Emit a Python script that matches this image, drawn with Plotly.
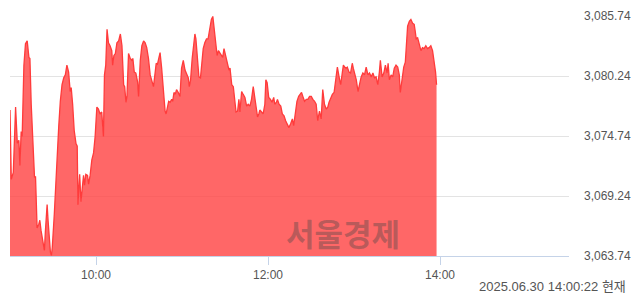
import pandas as pd
import plotly.graph_objects as go

# minutes after 09:00 open
minutes = [0.0, 0.9, 2.3, 3.9, 5.1, 6.2, 6.9, 7.8, 8.5, 9.7,
           10.8, 12.0, 13.2, 13.9, 14.8, 16.2, 17.1, 17.8, 18.4, 18.9,
           20.1, 20.8, 21.7, 23.1, 24.0, 24.7, 25.9, 26.6, 27.5, 28.2,
           28.9, 29.5, 30.9, 32.3, 34.0, 35.1, 36.3, 37.5, 38.6, 39.7,
           40.9, 42.0, 42.7, 43.7, 44.8, 46.0, 46.9, 47.4, 48.6, 49.5,
           50.4, 51.3, 52.0, 52.9, 54.1, 54.8, 55.9, 57.1, 58.3, 59.4,
           60.6, 61.7, 62.8, 64.0, 65.2, 65.9, 66.8, 67.7, 68.7, 69.8,
           71.0, 71.6, 72.5, 73.5, 74.6, 75.8, 77.0, 78.1, 79.3, 80.0,
           80.9, 81.6, 82.7, 83.9, 85.0, 85.7, 86.7, 87.8, 89.0, 89.7,
           90.9, 92.0, 93.2, 94.3, 95.4, 96.6, 97.8, 98.9, 100.1, 101.3,
           102.0, 102.9, 103.8, 104.7, 105.8, 107.0, 108.2, 108.9, 109.8, 110.7,
           111.7, 112.8, 113.5, 114.4, 115.3, 116.2, 117.4, 118.6, 119.7, 120.9,
           122.1, 123.2, 124.4, 125.1, 126.0, 127.1, 128.3, 129.0, 129.7, 130.6,
           131.8, 132.9, 133.9, 134.8, 135.9, 137.1, 138.2, 139.4, 140.5, 141.5,
           142.4, 143.6, 144.5, 145.4, 146.3, 148.4, 149.3, 150.5, 151.6, 152.8,
           153.5, 154.7, 155.8, 157.0, 157.7, 158.8, 159.7, 160.4, 161.6, 162.7,
           163.9, 165.1, 166.2, 167.4, 168.5, 169.7, 170.8, 172.0, 172.7, 173.6,
           174.3, 175.5, 176.6, 177.8, 178.5, 179.4, 180.5, 181.7, 182.8, 184.0,
           184.7, 185.9, 186.6, 187.7, 188.9, 190.0, 191.2, 192.3, 193.5, 194.6,
           195.8, 197.0, 197.9, 199.1, 200.2, 201.4, 202.5, 203.4, 204.3, 205.5,
           206.7, 207.8, 209.0, 210.2, 211.3, 212.5, 213.6, 214.7, 215.9, 217.1,
           218.2, 219.4, 220.6, 221.7, 222.6, 223.8, 224.9, 226.1, 227.2, 228.4,
           229.6, 230.7, 231.9, 232.6, 233.5, 234.6, 235.3, 236.5, 237.6, 238.8,
           239.5, 240.4, 241.6, 242.8, 243.9, 245.0, 246.2, 247.3, 248.5, 249.7,
           250.8, 252.0, 253.2, 254.3, 255.4, 256.6, 257.7, 258.4, 259.6, 260.8,
           261.9, 263.1, 263.8, 264.7, 265.9, 267.0, 268.1, 269.3, 270.5, 271.6,
           272.3, 273.5, 274.7, 275.8, 276.5, 277.4, 278.6, 279.7, 280.9, 282.0,
           282.7, 283.4, 284.4, 285.5, 286.7, 287.8, 288.9, 290.1, 291.3, 292.4,
           293.6, 294.8, 295.9, 296.9, 297.6]

index_values = [3077.12, 3070.77, 3071.40, 3077.39, 3074.08, 3074.35, 3072.03, 3075.15, 3074.70, 3081.23,
                3083.19, 3083.46, 3081.94, 3081.85, 3077.65, 3073.19, 3070.95, 3071.04, 3068.72, 3066.31,
                3066.66, 3067.02, 3066.04, 3064.70, 3064.25, 3066.04, 3068.45, 3066.93, 3065.14, 3064.07,
                3063.80, 3064.52, 3067.56, 3071.67, 3075.60, 3077.92, 3079.44, 3080.07, 3080.34, 3081.23,
                3080.60, 3078.82, 3079.17, 3077.65, 3075.24, 3074.08, 3073.81, 3068.45, 3071.22, 3068.72,
                3070.33, 3071.13, 3070.24, 3071.22, 3071.13, 3070.33, 3071.13, 3072.56, 3073.19, 3074.70,
                3077.39, 3077.21, 3076.76, 3076.94, 3074.70, 3080.34, 3081.23, 3084.53, 3083.28, 3083.02,
                3082.57, 3081.23, 3082.12, 3082.30, 3083.28, 3083.46, 3084.09, 3083.02, 3079.44, 3079.26,
                3077.83, 3078.37, 3082.30, 3081.85, 3081.68, 3081.85, 3080.60, 3080.51, 3079.71, 3078.37,
                3081.68, 3083.02, 3083.46, 3083.28, 3082.84, 3081.85, 3080.34, 3079.71, 3079.26, 3080.60,
                3081.41, 3081.32, 3081.85, 3082.39, 3080.96, 3078.55, 3077.03, 3076.76, 3077.48, 3077.92,
                3077.83, 3078.10, 3077.92, 3078.73, 3078.55, 3078.99, 3078.73, 3078.37, 3080.96, 3081.68,
                3080.78, 3080.34, 3080.07, 3079.26, 3079.89, 3081.85, 3083.64, 3084.09, 3083.64, 3081.85,
                3080.16, 3080.07, 3081.23, 3082.75, 3083.28, 3083.64, 3083.64, 3084.80, 3085.43, 3085.70,
                3084.53, 3083.28, 3082.12, 3082.57, 3082.39, 3081.94, 3082.75, 3082.12, 3081.41, 3080.78,
                3080.96, 3079.44, 3079.26, 3077.65, 3076.94, 3077.03, 3078.10, 3076.94, 3078.82, 3078.55,
                3078.28, 3077.48, 3077.65, 3077.48, 3078.10, 3079.26, 3078.28, 3077.03, 3076.49, 3076.76,
                3077.12, 3076.94, 3076.76, 3077.65, 3079.89, 3079.62, 3078.28, 3078.10, 3077.83, 3078.28,
                3077.65, 3077.83, 3078.10, 3077.65, 3077.48, 3076.76, 3076.58, 3076.14, 3075.87, 3075.51,
                3075.87, 3076.31, 3075.69, 3077.03, 3077.92, 3078.37, 3078.55, 3078.73, 3078.37, 3077.92,
                3078.10, 3078.10, 3078.37, 3078.37, 3078.10, 3077.92, 3077.65, 3076.14, 3077.03, 3076.31,
                3078.99, 3077.65, 3077.21, 3077.39, 3077.83, 3078.28, 3078.55, 3078.73, 3079.89, 3081.05,
                3080.16, 3079.44, 3080.60, 3081.23, 3081.05, 3080.96, 3081.05, 3080.60, 3080.51, 3081.41,
                3080.96, 3080.51, 3079.89, 3078.82, 3079.44, 3080.16, 3080.51, 3080.34, 3081.05, 3080.34,
                3080.51, 3080.16, 3080.51, 3080.07, 3080.16, 3079.44, 3080.60, 3081.68, 3080.16, 3080.51,
                3081.23, 3080.51, 3081.41, 3079.89, 3080.34, 3080.16, 3080.96, 3081.23, 3081.05, 3080.34,
                3078.73, 3079.71, 3081.05, 3081.50, 3082.75, 3084.80, 3085.25, 3085.43, 3085.07, 3084.98,
                3084.36, 3083.64, 3083.73, 3083.28, 3082.57, 3082.84, 3082.75, 3083.02, 3082.75, 3082.84,
                3083.02, 3082.57, 3081.68, 3080.60, 3079.44]

y_tick_values = [3063.74, 3069.24, 3074.74, 3080.24, 3085.74]
y_tick_labels = ["3,063.74", "3,069.24", "3,074.74", "3,080.24", "3,085.74"]
x_tick_values = ["2025-06-30 10:00", "2025-06-30 12:00", "2025-06-30 14:00"]
x_tick_labels = ["10:00", "12:00", "14:00"]
x_range = ["2025-06-30 09:00", "2025-06-30 15:30"]
watermark = "서울경제"
stamp = "2025.06.30 14:00:22 현재"

base = pd.Timestamp("2025-06-30 09:00")
times = base + pd.to_timedelta(minutes, unit="m")

fig = go.Figure()
fig.add_trace(go.Scatter(
    x=times, y=index_values, mode="lines",
    line=dict(color="#ff3b3b", width=1.3),
    fill="tozeroy", fillcolor="rgba(255,70,70,0.82)",
    hoverinfo="skip", showlegend=False,
))

label_font = dict(family="Liberation Sans, Arial, sans-serif", size=12, color="#555555")

fig.update_layout(
    width=640, height=294,
    margin=dict(l=10, r=67, t=9, b=38),
    paper_bgcolor="white", plot_bgcolor="white",
    xaxis=dict(
        range=x_range, type="date",
        tickvals=x_tick_values, ticktext=x_tick_labels,
        ticks="outside", ticklen=8, tickcolor="#c5d3e8", tickwidth=1,
        showline=True, linecolor="#c5d3e8", linewidth=1,
        showgrid=False, zeroline=False, tickfont=label_font,
    ),
    yaxis=dict(
        range=[3063.74, 3085.74], side="right",
        tickvals=y_tick_values, ticktext=y_tick_labels,
        showgrid=True, gridcolor="#e3e3e3", gridwidth=1,
        zeroline=False, showline=False, ticks="",
        ticklabelstandoff=14, tickfont=label_font,
    ),
    annotations=[
        dict(text="<b>" + watermark + "</b>", xref="paper", yref="paper",
             x=(345 - 10) / 563, y=(256 - 232) / 247, xanchor="center", yanchor="middle", showarrow=False,
             font=dict(family="Noto Sans CJK KR", size=31, color="rgba(70,70,70,0.38)")),
        dict(text=stamp, xref="paper", yref="paper",
             x=(632 - 10) / 563, y=(256 - 287) / 247, xanchor="right", yanchor="middle", showarrow=False,
             font=dict(family="Liberation Sans, Noto Sans CJK KR, sans-serif", size=13, color="#555555")),
    ],
)

fig.write_html("out.html")
